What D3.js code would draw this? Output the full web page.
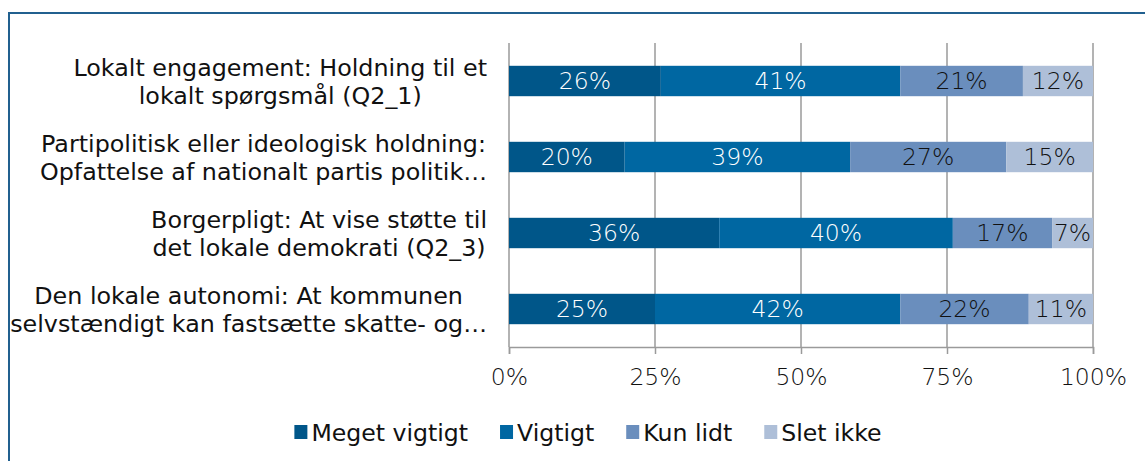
<!DOCTYPE html>
<html>
<head>
<meta charset="utf-8">
<script src="https://cdn.jsdelivr.net/npm/d3@7"></script>
<style>
  body { margin: 0; background: #fff; }
  svg { display: block; }
</style>
</head>
<body>
<svg id="chart" width="1145" height="461"></svg>
<script>
const categories = [
  ['Lokalt engagement: Holdning til et', 'lokalt spørgsmål (Q2_1)'],
  ['Partipolitisk eller ideologisk holdning:', 'Opfattelse af nationalt partis politik…'],
  ['Borgerpligt: At vise støtte til', 'det lokale demokrati (Q2_3)'],
  ['Den lokale autonomi: At kommunen', 'selvstændigt kan fastsætte skatte- og…']
];
const seriesNames = ['Meget vigtigt', 'Vigtigt', 'Kun lidt', 'Slet ikke'];
const megetVigtigt = [26, 20, 36, 25];
const vigtigt = [41, 39, 40, 42];
const kunLidt = [21, 27, 17, 22];
const sletIkke = [12, 15, 7, 11];
const ticks = [0, 0.25, 0.5, 0.75, 1];

const colors = ['#005689', '#0067a2', '#6a8ebd', '#aebfd8'];
const labelColors = ['#fff', '#fff', '#111', '#111'];

const rows = categories.map((c, i) => ({
  idx: i,
  'Meget vigtigt': megetVigtigt[i],
  'Vigtigt': vigtigt[i],
  'Kun lidt': kunLidt[i],
  'Slet ikke': sletIkke[i]
}));

const plotLeft = 509, plotRight = 1093, plotTop = 43, plotBottom = 347;
const thinFont = '"DejaVu Sans", Verdana, sans-serif';

const x = d3.scaleLinear().domain([0, 1]).range([plotLeft, plotRight]);
const y = d3.scaleBand().domain(d3.range(categories.length)).range([plotTop, plotBottom]).paddingInner(0.6).paddingOuter(0.3);

const stack = d3.stack().keys(seriesNames).offset(d3.stackOffsetExpand);
const stacked = stack(rows);

const svg = d3.select('#chart');

// frame
svg.append('rect')
  .attr('x', 9).attr('y', 13)
  .attr('width', 1200).attr('height', 500)
  .attr('fill', 'none')
  .attr('stroke', '#21608f')
  .attr('stroke-width', 2);

// gridlines
svg.append('g')
  .selectAll('line')
  .data(ticks)
  .join('line')
  .attr('x1', d => x(d)).attr('x2', d => x(d))
  .attr('y1', plotTop).attr('y2', plotBottom)
  .attr('stroke', '#9a9a9a')
  .attr('stroke-width', 1.5);

// bars
const layer = svg.append('g')
  .selectAll('g')
  .data(stacked)
  .join('g')
  .attr('fill', (d, i) => colors[i]);

layer.selectAll('rect')
  .data(d => d)
  .join('rect')
  .attr('x', d => x(d[0]))
  .attr('y', d => y(d.data.idx))
  .attr('width', d => x(d[1]) - x(d[0]))
  .attr('height', y.bandwidth());

// value labels
layer.selectAll('text')
  .data((d, i) => d.map(v => ({v, key: d.key, i})))
  .join('text')
  .attr('x', d => (x(d.v[0]) + x(d.v[1])) / 2)
  .attr('y', d => y(d.v.data.idx) + y.bandwidth() / 2)
  .attr('dy', '0.36em')
  .attr('text-anchor', 'middle')
  .style('font-family', thinFont)
  .style('font-weight', 200)
  .style('font-size', '23.5px')
  .style('fill', d => labelColors[d.i])
  .text(d => d.v.data[d.key] + '%');

// x axis
const axis = d3.axisBottom(x)
  .tickValues(ticks)
  .tickSize(7)
  .tickPadding(14)
  .tickFormat(d3.format('.0%'));

const axisG = svg.append('g')
  .attr('transform', `translate(0, ${plotBottom})`)
  .call(axis);
axisG.select('.domain').attr('stroke', '#9a9a9a').attr('stroke-width', 1.5);
axisG.selectAll('.tick line').attr('stroke', '#9a9a9a').attr('stroke-width', 1.5);
axisG.selectAll('text')
  .style('font-family', thinFont)
  .style('font-weight', 200)
  .style('font-size', '23.5px')
  .style('fill', '#111');

// category labels: lines centred on each other, block right-aligned
const catG = svg.append('g')
  .selectAll('g')
  .data(categories)
  .join('g');

catG.each(function(lines, i) {
  const g = d3.select(this);
  const cy = y(i) + y.bandwidth() / 2;
  const texts = g.selectAll('text')
    .data(lines)
    .join('text')
    .attr('text-anchor', 'middle')
    .attr('y', (d, j) => cy + (j - 0.5) * 28)
    .attr('dy', '0.36em')
    .style('font-family', '"DejaVu Sans", Verdana, sans-serif')
    .style('font-size', '23.8px')
    .style('fill', '#111')
    .text(d => d);
  const w = d3.max(texts.nodes(), n => n.getComputedTextLength());
  texts.attr('x', 487 - w / 2);
});

// legend
const legend = svg.append('g');
let lx = 0;
seriesNames.forEach((name, i) => {
  const item = legend.append('g').attr('transform', `translate(${lx}, 432)`);
  item.append('rect')
    .attr('x', 0).attr('y', -7)
    .attr('width', 13).attr('height', 14)
    .attr('fill', colors[i]);
  const t = item.append('text')
    .attr('x', 17)
    .attr('dy', '0.36em')
    .style('font-family', '"DejaVu Sans", Verdana, sans-serif')
    .style('font-size', '23.6px')
    .style('fill', '#111')
    .text(name);
  lx += 17 + t.node().getComputedTextLength() + 32;
});
const legendW = lx - 32;
legend.attr('transform', `translate(${588 - legendW / 2}, 0)`);
</script>
</body>
</html>
